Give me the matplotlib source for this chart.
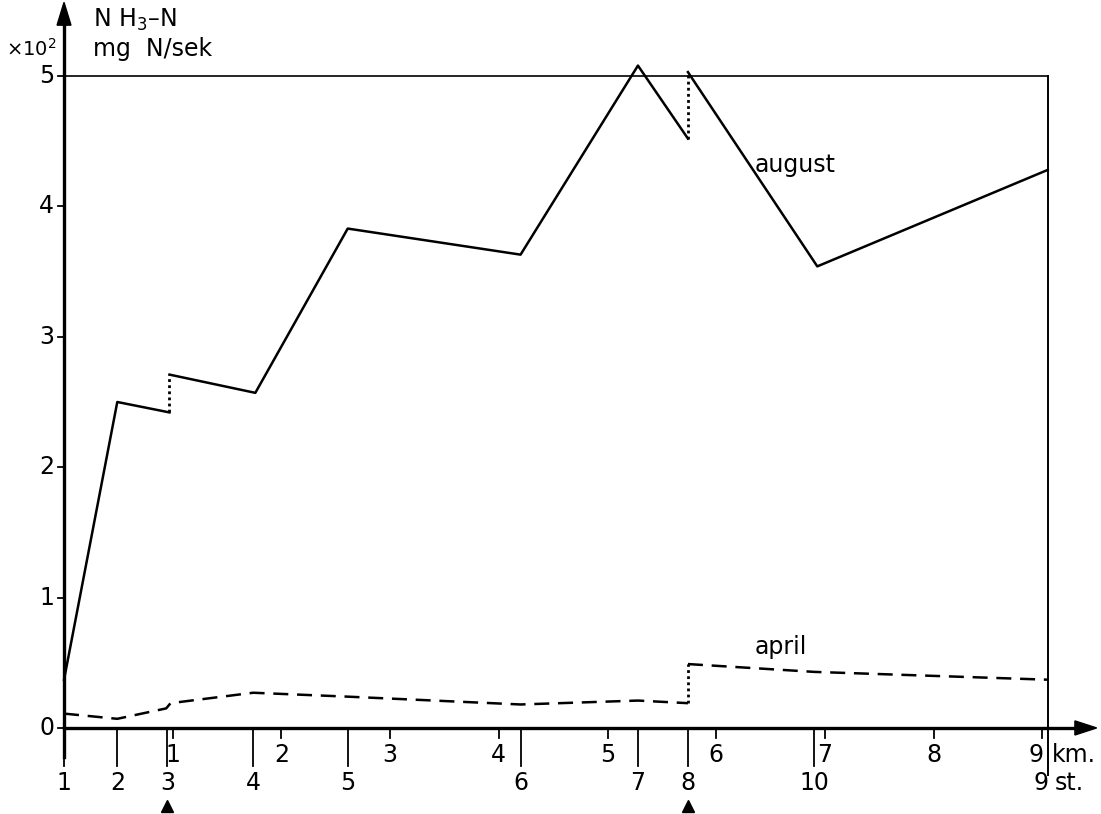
import matplotlib
matplotlib.use('Agg')
import matplotlib.pyplot as plt

# positions along the river in km
km_ticks = [1, 2, 3, 4, 5, 6, 7, 8, 9]
stations = ['1', '2', '3', '4', '5', '6', '7', '8', '10', '9']
station_km = [0.0, 0.49, 0.95, 1.74, 2.61, 4.20, 5.28, 5.74, 6.90, 9.05]
inflow_km = [0.95, 5.74]  # tributaries (triangles)

# NH3-N, mg N/sek x 10^2
aug_km = [0.0, 0.49, 0.97, 0.97, 1.76, 2.61, 4.20, 5.28, 5.74, 5.74, 6.93, 9.05]
aug_val = [0.37, 2.50, 2.42, 2.71, 2.57, 3.83, 3.63, 5.08, 4.52, 5.03, 3.54, 4.28]
apr_km = [0.0, 0.49, 0.94, 0.98, 1.74, 2.61, 4.20, 5.28, 5.74, 5.74, 6.90, 9.05]
apr_val = [0.11, 0.07, 0.15, 0.19, 0.27, 0.24, 0.18, 0.21, 0.19, 0.49, 0.43, 0.37]
# segments drawn dotted (jumps at inflows)
aug_jumps = [(2, 3), (8, 9)]
apr_jumps = [(8, 9)]

fig = plt.figure(figsize=(11.01, 8.14), dpi=100)
ax = fig.add_axes([0, 0, 1, 1])
ax.set_xlim(-0.589, 9.540)
ax.set_ylim(-0.660, 5.583)
ax.axis('off')

def draw(xs, ys, jumps, style):
    start = 0
    for a, b in jumps:
        ax.plot(xs[start:a + 1], ys[start:a + 1], color='black', lw=1.8, linestyle=style)
        ax.plot(xs[a:b + 1], ys[a:b + 1], color='black', lw=2.0, linestyle=(0, (1, 1.2)))
        start = b
    ax.plot(xs[start:], ys[start:], color='black', lw=1.8, linestyle=style)

draw(aug_km, aug_val, aug_jumps, '-')
draw(apr_km, apr_val, apr_jumps, (0, (6, 3.5)))

# axes with arrows
ax.plot([0, 0], [-0.22, 5.45], color='black', lw=2.4)
ax.plot([0, 9.35], [0, 0], color='black', lw=2.4)
ax.fill([-0.064, 0.064, 0], [5.39, 5.39, 5.565], color='black')
ax.fill([9.30, 9.30, 9.50], [-0.054, 0.054, 0], color='black')

# frame at 5 and right end
ax.plot([0, station_km[-1]], [5, 5], color='black', lw=1.2)
ax.plot([station_km[-1], station_km[-1]], [-0.36, 5], color='black', lw=1.4)

fs = 17
for v in range(6):
    ax.plot([-0.06, 0], [v, v], color='black', lw=1.3)
    ax.text(-0.09, v, str(v), ha='right', va='center', fontsize=fs)

for k in km_ticks:
    ax.plot([k, k], [0, -0.08], color='black', lw=1.3)
    if k == 9:
        ax.text(k + 0.01, -0.21, str(k), ha='right', va='center', fontsize=fs)
        ax.text(k + 0.09, -0.21, 'km.', ha='left', va='center', fontsize=fs)
    else:
        ax.text(k, -0.21, str(k), ha='center', va='center', fontsize=fs)

for s, x in zip(stations, station_km):
    if s == '9':
        ax.text(x + 0.01, -0.42, s, ha='right', va='center', fontsize=fs)
        ax.text(x + 0.06, -0.42, 'st.', ha='left', va='center', fontsize=fs)
        continue
    ax.plot([x, x], [0, -0.29], color='black', lw=1.3)
    ax.text(x, -0.42, s, ha='center', va='center', fontsize=fs)

ax.plot(inflow_km, [-0.60] * len(inflow_km), '^', color='black', markersize=9)

ax.text(0.27, 5.43, 'N H$_3$–N', ha='left', va='center', fontsize=fs)
ax.text(0.27, 5.21, 'mg  N/sek', ha='left', va='center', fontsize=fs)
ax.text(-0.07, 5.21, '×10$^2$', ha='right', va='center', fontsize=14)

ax.text(6.35, 4.32, 'august', ha='left', va='center', fontsize=fs)
ax.text(6.35, 0.62, 'april', ha='left', va='center', fontsize=fs)

plt.savefig('out.png', dpi=100)
